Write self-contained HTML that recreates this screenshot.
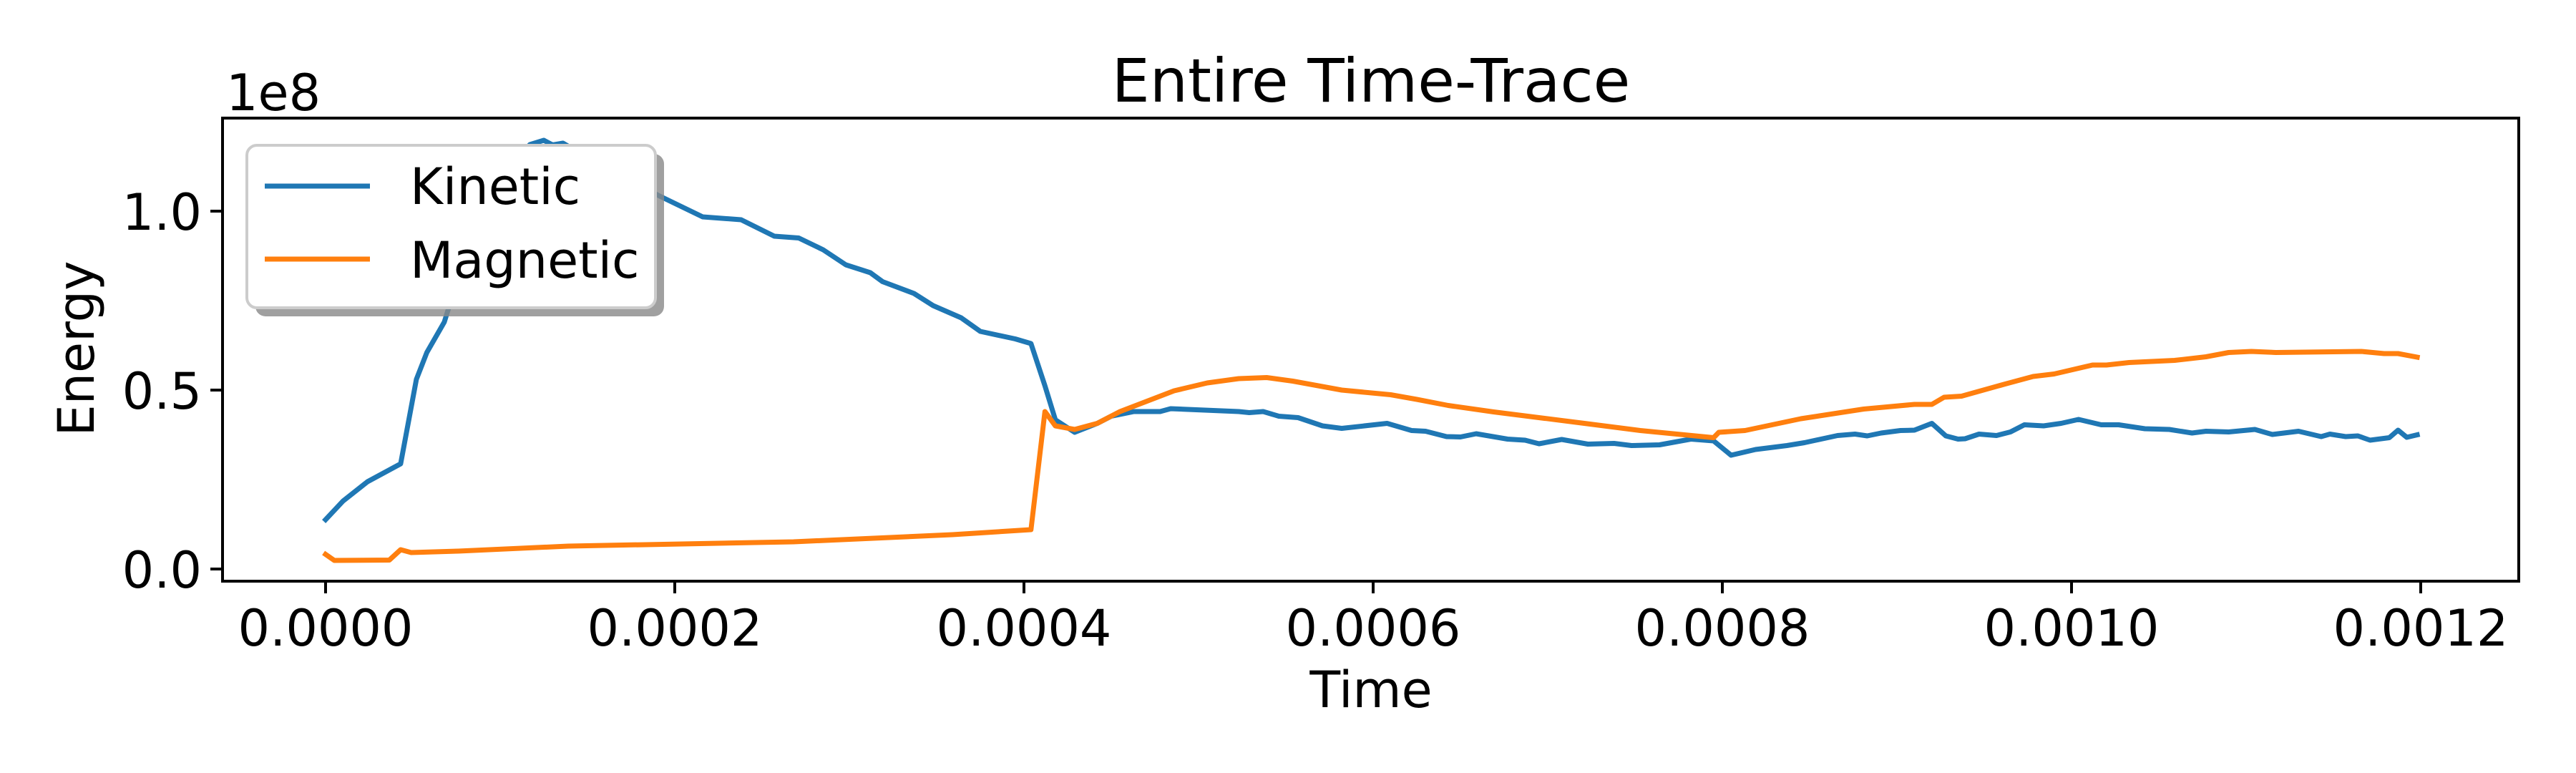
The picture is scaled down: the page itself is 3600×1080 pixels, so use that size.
<!DOCTYPE html>
<html><head><meta charset="utf-8"><style>
html,body{margin:0;padding:0;background:#fff;}
svg{display:block;font-family:"DejaVu Sans","Liberation Sans",sans-serif;}
</style></head><body>
<svg id="chart" width="3600" height="1080" viewBox="0 0 3600 1080" xmlns="http://www.w3.org/2000/svg">
<rect x="0" y="0" width="3600" height="1080" fill="#fff"/>
<text x="1916" y="142" font-size="84" text-anchor="middle">Entire Time-Trace</text>
<g id="plot"></g>
<g id="axes"></g>
<text x="316" y="154" font-size="70">1e8</text>
<text transform="translate(131,487) rotate(-90)" font-size="70" text-anchor="middle">Energy</text>
<text x="1916" y="988" font-size="70" text-anchor="middle">Time</text>
<g>
<rect x="357" y="215" width="571" height="227" rx="14" fill="#888" opacity="0.8"/>
<rect x="345" y="203" width="571" height="227" rx="14" fill="#fff" stroke="#cccccc" stroke-width="4"/>
<g>
<line x1="370" y1="260" x2="517" y2="260" stroke="#1f77b4" stroke-width="7"/>
<text x="573" y="285" font-size="70">Kinetic</text></g>
<g>
<line x1="370" y1="362" x2="517" y2="362" stroke="#ff7f0e" stroke-width="7"/>
<text x="573" y="388" font-size="70">Magnetic</text></g>
</g>
</svg>
<script>
const xTicks=[0,0.0002,0.0004,0.0006,0.0008,0.0010,0.0012];
const xTickLabels=["0.0000","0.0002","0.0004","0.0006","0.0008","0.0010","0.0012"];
const yTicks=[0,0.5e8,1.0e8];
const yTickLabels=["0.0","0.5","1.0"];
const kineticT=[0,0.10,0.24,0.43,0.52,0.58,0.68,0.75,0.85,1.0,1.17,1.25,1.30,1.36,1.5,1.7,1.91,2.16,2.38,2.57,2.71,2.85,2.98,3.12,3.19,3.37,3.48,3.64,3.75,3.95,4.04,4.12,4.18,4.29,4.42,4.50,4.63,4.78,4.84,5.23,5.29,5.37,5.46,5.57,5.71,5.82,6.08,6.22,6.30,6.42,6.50,6.59,6.77,6.87,6.95,7.08,7.23,7.38,7.48,7.64,7.82,7.95,8.05,8.19,8.37,8.47,8.66,8.76,8.83,8.91,9.02,9.10,9.20,9.28,9.35,9.39,9.47,9.57,9.65,9.73,9.84,9.94,10.04,10.17,10.27,10.42,10.56,10.69,10.77,10.90,11.05,11.15,11.30,11.43,11.48,11.57,11.64,11.71,11.82,11.87,11.92,11.98];
const kineticV=[0.138,0.19,0.244,0.294,0.53,0.605,0.69,0.80,0.95,1.10,1.186,1.198,1.185,1.19,1.15,1.10,1.043,0.984,0.976,0.930,0.925,0.892,0.85,0.828,0.803,0.77,0.736,0.702,0.664,0.643,0.63,0.512,0.417,0.382,0.407,0.427,0.44,0.44,0.448,0.44,0.437,0.44,0.427,0.423,0.40,0.393,0.407,0.387,0.385,0.37,0.369,0.378,0.363,0.36,0.35,0.362,0.349,0.351,0.345,0.347,0.363,0.358,0.318,0.334,0.345,0.353,0.373,0.377,0.372,0.38,0.387,0.388,0.407,0.372,0.363,0.364,0.377,0.373,0.383,0.403,0.40,0.407,0.418,0.403,0.403,0.392,0.39,0.38,0.385,0.383,0.39,0.376,0.385,0.37,0.377,0.37,0.372,0.36,0.367,0.388,0.368,0.375];
const magneticT=[0,0.05,0.365,0.43,0.49,0.76,1.39,2.68,3.59,4.04,4.12,4.18,4.29,4.42,4.55,4.86,5.05,5.23,5.39,5.54,5.82,6.10,6.25,6.43,6.69,7.21,7.53,7.95,7.98,8.13,8.45,8.81,9.10,9.20,9.27,9.37,9.62,9.78,9.90,10.12,10.20,10.33,10.59,10.77,10.90,11.03,11.17,11.66,11.79,11.87,11.98];
const magneticV=[0.041,0.024,0.025,0.054,0.046,0.05,0.064,0.076,0.096,0.11,0.44,0.40,0.39,0.407,0.44,0.498,0.52,0.532,0.535,0.525,0.50,0.487,0.474,0.457,0.439,0.407,0.387,0.367,0.382,0.387,0.42,0.447,0.46,0.46,0.48,0.483,0.517,0.538,0.545,0.57,0.57,0.577,0.583,0.593,0.605,0.608,0.605,0.608,0.602,0.602,0.592];

const NS="http://www.w3.org/2000/svg";
const L=311,R=3520,T=165,B=812;
function xs(t){return 455+(t/0.0002)*488;}
function ys(v){return 795-(v/1e8)*500;}
const plot=document.getElementById('plot');
const axes=document.getElementById('axes');
function mk(tag,attrs,parent){const e=document.createElementNS(NS,tag);for(const k in attrs)e.setAttribute(k,attrs[k]);parent.appendChild(e);return e;}
function line(ts,vs,color,name){
  const d=ts.map((t,i)=>(i?'L':'M')+xs(t*1e-4).toFixed(1)+' '+ys(vs[i]*1e8).toFixed(1)).join(' ');
  const p=mk('path',{d:d,fill:'none',stroke:color,'stroke-width':7,'stroke-linejoin':'round','stroke-linecap':'square'},plot);
  
  
}
line(kineticT,kineticV,'#1f77b4','kinetic-line');
line(magneticT,magneticV,'#ff7f0e','magnetic-line');
const frame=mk('rect',{x:L,y:T,width:R-L,height:B-T,fill:'none',stroke:'#000','stroke-width':4},axes);


xTicks.forEach((t,i)=>{
  const x=xs(t);
  const tk=mk('line',{x1:x,y1:B,x2:x,y2:B+17,stroke:'#000','stroke-width':4},axes);
  
  
  const tx=mk('text',{x:x,y:902,'font-size':70,'text-anchor':'middle'},axes);
  tx.textContent=xTickLabels[i];
  
  
});
yTicks.forEach((v,i)=>{
  const y=ys(v);
  const tk=mk('line',{x1:L-17,y1:y,x2:L,y2:y,stroke:'#000','stroke-width':4},axes);
  
  
  const tx=mk('text',{x:282,y:y+26,'font-size':70,'text-anchor':'end'},axes);
  tx.textContent=yTickLabels[i];
  
  
});
</script>
</body></html>
